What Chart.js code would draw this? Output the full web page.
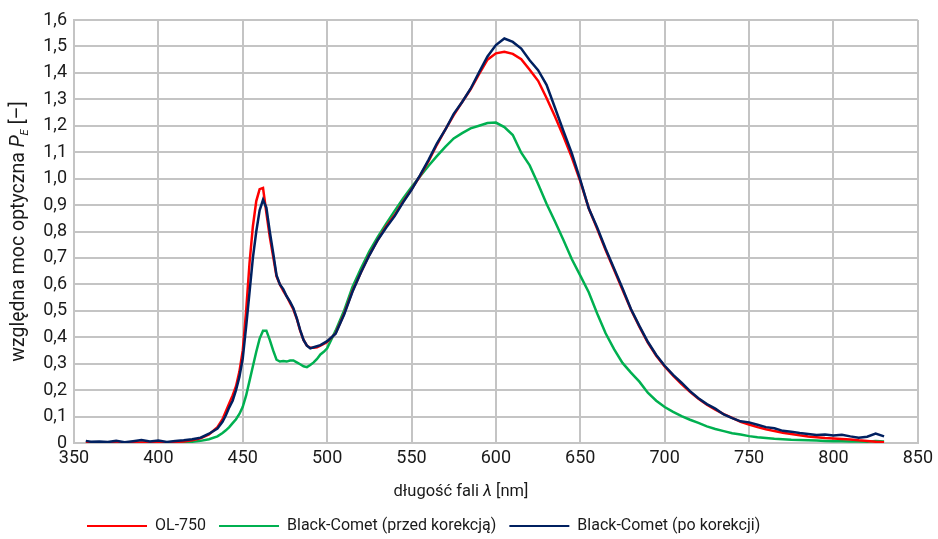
<!DOCTYPE html>
<html>
<head>
<meta charset="utf-8">
<script src="https://cdn.jsdelivr.net/npm/chart.js@4.4.1/dist/chart.umd.min.js"></script>
<style>
  html, body { margin: 0; padding: 0; background: #fff; }
  #wrap { width: 938px; height: 539px; position: relative; }
</style>
</head>
<body>
<div id="wrap"><canvas id="spectrum"></canvas></div>
<script>
// wavelengths [nm], shared by all three series
const wavelengths = [
  357, 360, 365, 370, 375, 380, 385, 390, 395, 400, 405, 410, 415, 420, 425, 430, 435,
  438, 440, 442, 444, 446, 448, 450, 452, 454, 456, 458, 460, 462, 464, 466, 468, 470,
  472, 474, 476, 478, 480, 482, 484, 486, 488, 490, 492, 494, 496, 498, 500,
  505, 510, 515, 520, 525, 530, 535, 540, 545, 550, 555, 560, 565, 570, 575, 580, 585, 590, 595, 600,
  605, 610, 615, 620, 625, 630, 635, 640, 645, 650, 655, 660, 665, 670, 675, 680, 685, 690, 695, 700,
  705, 710, 715, 720, 725, 730, 735, 740, 745, 750, 755, 760, 765, 770, 775, 780, 785, 790, 795, 800,
  805, 810, 815, 820, 825, 830
];

const ol750 = [
  0, 0, 0, 0, 0.001, 0.001, 0.001, 0.002, 0.002, 0.002, 0.003, 0.004, 0.006, 0.01, 0.018, 0.032, 0.06,
  0.09, 0.12, 0.15, 0.18, 0.215, 0.27, 0.35, 0.5, 0.68, 0.82, 0.915, 0.96, 0.965, 0.87, 0.78, 0.705, 0.63,
  0.6, 0.575, 0.555, 0.53, 0.505, 0.47, 0.425, 0.39, 0.368, 0.36, 0.36, 0.362, 0.368, 0.375, 0.382,
  0.415, 0.488, 0.575, 0.645, 0.712, 0.768, 0.82, 0.862, 0.913, 0.96, 1.01, 1.065, 1.128, 1.185, 1.24, 1.29, 1.338, 1.395, 1.45, 1.474,
  1.48, 1.472, 1.452, 1.412, 1.37, 1.305, 1.235, 1.16, 1.08, 0.99, 0.888, 0.81, 0.73, 0.655, 0.58, 0.505, 0.44, 0.38, 0.33, 0.29,
  0.255, 0.223, 0.194, 0.167, 0.145, 0.126, 0.109, 0.095, 0.08, 0.07, 0.06, 0.052, 0.045, 0.039, 0.034, 0.029, 0.025, 0.022, 0.019, 0.017,
  0.015, 0.013, 0.01, 0.008, 0.005, 0.003
];

const bcPrzed = [
  0, 0, 0, 0, 0, 0, 0, 0.001, 0.001, 0.001, 0.001, 0.002, 0.003, 0.005, 0.008, 0.014, 0.025,
  0.038, 0.048, 0.06, 0.075, 0.09, 0.11, 0.137, 0.18, 0.235, 0.29, 0.345, 0.395, 0.425, 0.425, 0.39, 0.35, 0.315,
  0.308, 0.31, 0.308, 0.312, 0.312, 0.305, 0.298, 0.29, 0.287, 0.295, 0.305, 0.318, 0.335, 0.345, 0.358,
  0.425, 0.5, 0.59, 0.66, 0.725, 0.78, 0.83, 0.878, 0.925, 0.968, 1.008, 1.048, 1.085, 1.12, 1.152, 1.172, 1.19, 1.2, 1.21, 1.212,
  1.195, 1.165, 1.098, 1.05, 0.98, 0.905, 0.838, 0.768, 0.695, 0.633, 0.57, 0.49, 0.415, 0.355, 0.303, 0.266, 0.232, 0.19, 0.16, 0.136,
  0.118, 0.102, 0.088, 0.076, 0.063, 0.053, 0.045, 0.037, 0.032, 0.026, 0.022, 0.019, 0.016, 0.014, 0.012, 0.011, 0.01, 0.009, 0.008, 0.007,
  0.007, 0.006, 0.006, 0.005, 0.008, 0.006
];

const bcPo = [
  0.008, 0.005, 0.006, 0.004, 0.008, 0.003, 0.007, 0.011, 0.006, 0.009, 0.004, 0.008, 0.01, 0.014, 0.02, 0.035, 0.055,
  0.08, 0.105, 0.135, 0.16, 0.2, 0.25, 0.32, 0.44, 0.57, 0.7, 0.8, 0.88, 0.92, 0.89, 0.8, 0.72, 0.635,
  0.6, 0.582, 0.555, 0.535, 0.51, 0.472, 0.428, 0.39, 0.368, 0.358, 0.362, 0.366, 0.37, 0.378, 0.385,
  0.413, 0.485, 0.572, 0.645, 0.71, 0.768, 0.815, 0.858, 0.91, 0.958, 1.012, 1.07, 1.132, 1.185, 1.245, 1.29, 1.34, 1.402, 1.462, 1.505,
  1.53, 1.517, 1.492, 1.448, 1.41, 1.355, 1.268, 1.18, 1.095, 0.995, 0.888, 0.815, 0.735, 0.66, 0.585, 0.507, 0.443, 0.383, 0.333, 0.292,
  0.258, 0.228, 0.196, 0.169, 0.147, 0.13, 0.108, 0.094, 0.082, 0.078, 0.069, 0.06, 0.056, 0.046, 0.043, 0.038, 0.034, 0.03, 0.032, 0.028,
  0.031, 0.025, 0.02, 0.024, 0.036, 0.025
];

const seriesNames = ['OL-750', 'Black-Comet (przed korekcją)', 'Black-Comet (po korekcji)'];
const xTicks = [350, 400, 450, 500, 550, 600, 650, 700, 750, 800, 850];
const yMax = 1.6;

const FONT = "Roboto, sans-serif";
const GRID = '#c4c4c4';
const TEXT = '#1a1a1a';

function pts(values) {
  return wavelengths.map((w, i) => ({ x: w, y: values[i] }));
}

// axis titles with italic symbols / subscript, drawn on the canvas
const axisTitles = {
  id: 'axisTitles',
  afterLayout(chart) {
    chart.legend.top += 5;
    chart.legend.bottom += 5;
  },
  afterDraw(chart) {
    const ctx = chart.ctx;
    const area = chart.chartArea;
    const drawParts = (parts) => {
      let total = 0;
      parts.forEach(p => { ctx.font = p.f; p.w = ctx.measureText(p.t).width; total += p.w; });
      let x = -total / 2;
      parts.forEach(p => {
        ctx.font = p.f;
        ctx.fillText(p.t, x, p.dy || 0);
        x += p.w;
      });
    };
    ctx.save();
    ctx.fillStyle = TEXT;
    ctx.textBaseline = 'middle';
    ctx.textAlign = 'left';

    ctx.save();
    ctx.translate(19, (area.top + area.bottom) / 2);
    ctx.rotate(-Math.PI / 2);
    drawParts([
      { t: 'względna moc optyczna ', f: '19.5px ' + FONT },
      { t: 'P', f: 'italic 19.5px ' + FONT },
      { t: 'E', f: 'italic 11px ' + FONT, dy: 6 },
      { t: ' [–]', f: '19.5px ' + FONT }
    ]);
    ctx.restore();

    ctx.save();
    ctx.translate(461, 492);
    drawParts([
      { t: 'długość fali ', f: '16.5px ' + FONT },
      { t: 'λ', f: 'italic 16.5px ' + FONT },
      { t: ' [nm]', f: '16.5px ' + FONT }
    ]);
    ctx.restore();
    ctx.restore();
  }
};

new Chart(document.getElementById('spectrum'), {
  type: 'line',
  data: {
    datasets: [
      { label: seriesNames[0], data: pts(ol750), borderColor: '#ff0000', backgroundColor: '#ff0000', order: 1 },
      { label: seriesNames[1], data: pts(bcPrzed), borderColor: '#00b050', backgroundColor: '#00b050', order: 2 },
      { label: seriesNames[2], data: pts(bcPo), borderColor: '#002060', backgroundColor: '#002060', order: 0 }
    ]
  },
  options: {
    responsive: true,
    maintainAspectRatio: false,
    animation: false,
    elements: {
      point: { radius: 0 },
      line: { borderWidth: 2.5, tension: 0 }
    },
    layout: { padding: { left: 0, right: 18, top: 20, bottom: 0 } },
    plugins: {
      tooltip: { enabled: false },
      legend: {
        position: 'bottom',
        align: 'start',
        fullSize: false,
        labels: {
          boxWidth: 60,
          boxHeight: 2,
          padding: 13,
          color: TEXT,
          font: { family: FONT, size: 16 },
          sort: (a, b) => a.datasetIndex - b.datasetIndex,
          generateLabels: (chart) =>
            Chart.defaults.plugins.legend.labels.generateLabels(chart).map(l => ({ ...l, lineWidth: 0 }))
        }
      }
    },
    scales: {
      x: {
        type: 'linear',
        min: xTicks[0],
        max: xTicks[xTicks.length - 1],
        afterBuildTicks: (scale) => { scale.ticks = xTicks.map(v => ({ value: v })); },
        afterFit: (scale) => { scale.height = 57; },
        grid: { color: GRID, lineWidth: 2, drawTicks: false },
        border: { color: GRID, width: 2 },
        ticks: { color: TEXT, font: { family: FONT, size: 18 }, padding: 5, maxRotation: 0 }
      },
      y: {
        min: 0,
        max: yMax,
        afterFit: (scale) => { scale.width = 74; },
        grid: { color: GRID, lineWidth: 2, drawTicks: false },
        border: { color: GRID, width: 2 },
        ticks: {
          stepSize: 0.1,
          color: TEXT,
          font: { family: FONT, size: 18 },
          padding: 7,
          callback: (v) => v === 0 ? '0' : v.toFixed(1).replace('.', ',')
        }
      }
    }
  },
  plugins: [axisTitles]
});
</script>
</body>
</html>
